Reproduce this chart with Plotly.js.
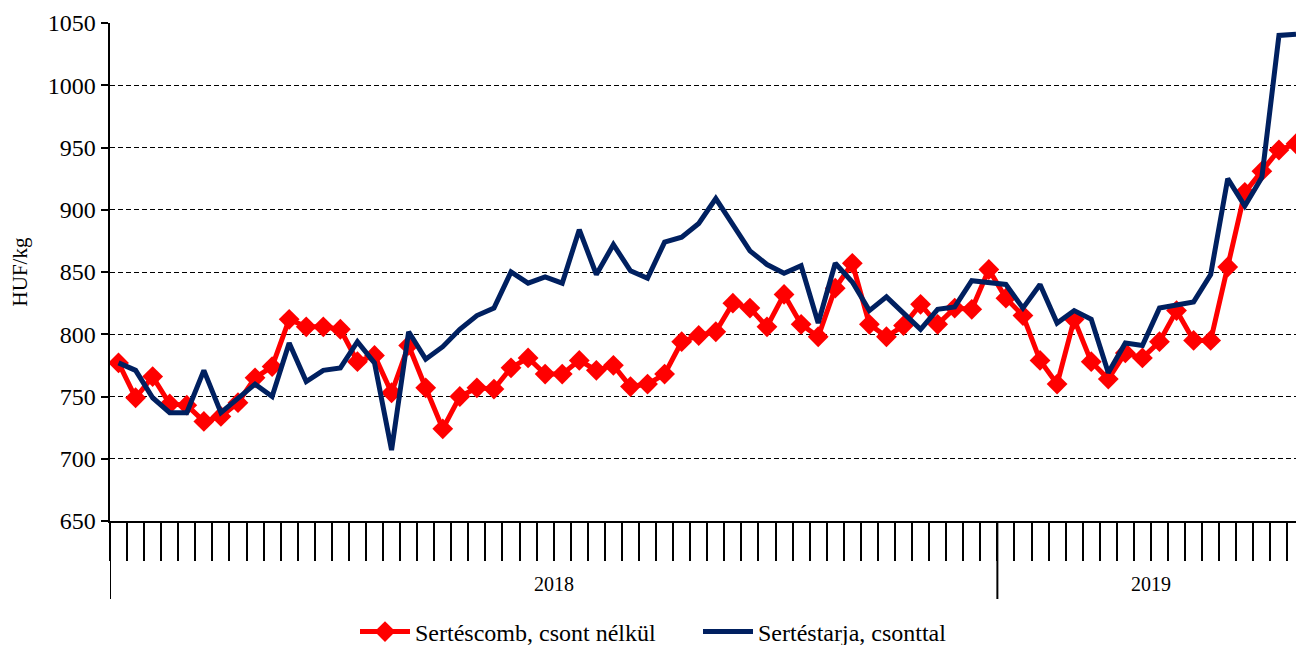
<!DOCTYPE html>
<html>
<head>
<meta charset="utf-8">
<script src="https://cdn.plot.ly/plotly-3.0.1.min.js"></script>
<style>html,body{margin:0;padding:0;background:#fff;}#chart{width:1296px;height:645px;}</style>
</head>
<body>
<div id="chart"></div>
<script>
// Years and number of weeks shown in each year
const years = ["2018", "2019"];
const weeksPerYear = [52, 18];

// Weekly prices, HUF/kg
const sertescomb = [
  777, 749, 766, 744, 743, 730, 734, 745, 765, 774,
  812, 806, 806, 804, 778, 783, 753, 791, 757, 724,
  750, 757, 756, 773, 781, 768, 768, 779, 771, 775,
  758, 760, 768, 794, 799, 802, 825, 821, 806, 832,
  808, 798, 837, 857, 808, 798, 807, 824, 808, 821,
  820, 852, 829, 815, 779, 760, 812, 778, 764, 785,
  781, 794, 819, 795, 795, 854, 914, 931, 948, 953
];
const sertestarja = [
  777, 771, 749, 737, 737, 771, 737, 749, 760, 750,
  793, 762, 771, 773, 794, 777, 707, 802, 780, 790,
  804, 815, 821, 850, 841, 846, 841, 884, 848, 872,
  851, 845, 874, 878, 889, 909, 888, 867, 856, 849,
  855, 809, 857, 842, 819, 830, 817, 804, 820, 822,
  843, 841, 840, 821, 840, 809, 819, 812, 769, 793,
  791, 821, 823, 826, 848, 925, 903, 926, 1040, 1041
];
const seriesNames = ["Sertéscomb, csont nélkül", "Sertéstarja, csonttal"];
const yTicks = [650, 700, 750, 800, 850, 900, 950, 1000, 1050];

// category labels (year / week)
const weekLabels = [];
years.forEach((y, k) => { for (let w = 1; w <= weeksPerYear[k]; w++) weekLabels.push(y + "/" + w); });

const serif = "Liberation Serif";
const plotH = 645 - 23 - 124;
const sepLen = -78 / plotH;

const traces = [
  {
    x: weekLabels, y: sertescomb, name: seriesNames[0], type: "scatter", mode: "lines+markers",
    line: {color: "#FF0000", width: 5},
    marker: {symbol: "diamond", size: 16, color: "#FF0000"}
  },
  {
    x: weekLabels, y: sertestarja, name: seriesNames[1], type: "scatter", mode: "lines",
    line: {color: "#002060", width: 5}
  }
];

// year separators and labels
const shapes = [];
const annotations = [];
let start = 0;
shapes.push({type: "line", xref: "x", yref: "paper", x0: -0.5, x1: -0.5, y0: 0, y1: sepLen, line: {color: "#000", width: 2}});
years.forEach((y, k) => {
  const end = start + weeksPerYear[k];
  annotations.push({xref: "x", yref: "paper", x: (start + end - 1) / 2, y: -63 / plotH, yanchor: "middle",
    text: y, showarrow: false, font: {family: serif, size: 20, color: "#000"}});
  if (k < years.length - 1) {
    shapes.push({type: "line", xref: "x", yref: "paper", x0: end - 0.5, x1: end - 0.5, y0: 0, y1: sepLen, line: {color: "#000", width: 2}});
  }
  start = end;
});

const layout = {
  width: 1296, height: 645,
  margin: {l: 110, r: 0, t: 23, b: 124},
  paper_bgcolor: "#fff", plot_bgcolor: "#fff",
  showlegend: true,
  legend: {orientation: "h", xref: "container", yref: "container", x: 355 / 1296, xanchor: "left",
    y: 13 / 645, yanchor: "middle", entrywidth: 278, entrywidthmode: "pixels",
    font: {family: serif, size: 24, color: "#000"}, itemwidth: 50, tracegroupgap: 0},
  xaxis: {
    type: "category", range: [-0.5, 69], tickson: "boundaries",
    ticks: "outside", ticklen: 38, tickwidth: 2, tickcolor: "#000",
    showticklabels: false, showgrid: false, zeroline: false,
    showline: true, linecolor: "#000", linewidth: 2
  },
  yaxis: {
    range: [650, 1050], tickvals: yTicks, ticktext: yTicks.map(String),
    ticks: "outside", ticklen: 7, tickwidth: 2, tickcolor: "#000",
    showline: true, linecolor: "#000", linewidth: 2.5,
    showgrid: true, gridcolor: "#000", gridwidth: 1, griddash: "5px,3px",
    zeroline: false,
    tickfont: {family: serif, size: 24, color: "#000"},
    title: {text: "HUF/kg", font: {family: serif, size: 21, color: "#000"}, standoff: 15}
  },
  shapes: shapes,
  annotations: annotations
};

Plotly.newPlot("chart", traces, layout, {displayModeBar: false, staticPlot: true});
</script>
</body>
</html>
